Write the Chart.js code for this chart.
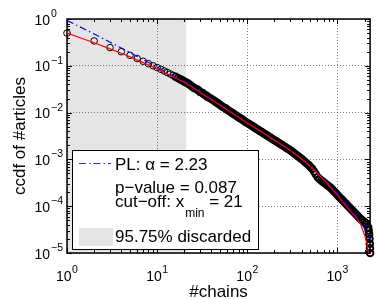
<!DOCTYPE html>
<html><head><meta charset="utf-8">
<script src="https://cdn.jsdelivr.net/npm/chart.js@4/dist/chart.umd.min.js"></script>
<style>html,body{margin:0;padding:0;background:#fff;}#wrap{width:376px;height:299px;}</style>
</head><body><div id="wrap"><canvas id="c" width="376" height="299"></canvas></div>
<script>
// ---- chart data ----
const xLabel = '#chains';
const yLabel = 'ccdf of #articles';
const xTickExps = [0, 1, 2, 3];
const yTickExps = [0, -1, -2, -3, -4, -5];
const xRange = [1, 2300];
const yRange = [1e-5, 1];
const xMinCut = 21;

const dataX = [1,2,3,4,5,6,7,8,9,10,11,12,13,14,15,16,17,18,19,20,21,22,23,24,25,26,28,29,30,32,33,35,36,38,40,42,44,46,48,50,52,55,58,60,63,66,69,72,76,79,83,87,91,95,100,105,110,115,120,126,132,138,145,151,158,166,174,182,190,200,209,219,229,240,251,263,275,288,302,316,331,347,363,380,398,417,437,457,479,501,525,550,575,603,631,661,692,724,759,794,832,871,912,955,1000,1047,1096,1148,1202,1259,1318,1380,1445,1514,1585,1660,1738,1820,1905,1995,2089,2188,2220,2245,2265,2280,2292,2300];
const dataY = [0.5,0.34,0.245,0.2,0.167,0.143,0.125,0.111,0.1,0.0915,0.084,0.0775,0.0718,0.0668,0.0625,0.0586,0.0551,0.0519,0.049,0.0464,0.044,0.0417,0.0394,0.0371,0.035,0.033,0.0311,0.0293,0.0277,0.0261,0.0246,0.0232,0.0219,0.0207,0.0195,0.0184,0.0173,0.0163,0.0154,0.0145,0.0137,0.0129,0.0122,0.0115,0.0108,0.0102,0.00964,0.0091,0.00857,0.00809,0.00762,0.00719,0.00678,0.0064,0.00603,0.00569,0.00538,0.00508,0.00481,0.00454,0.0043,0.00406,0.00384,0.00362,0.00343,0.00324,0.00306,0.00289,0.00274,0.00258,0.00244,0.00231,0.00218,0.00206,0.00195,0.00184,0.00174,0.00164,0.00155,0.00145,0.00135,0.00126,0.00118,0.0011,0.00103,0.000955,0.000883,0.000817,0.000759,0.000692,0.000631,0.00055,0.000479,0.000417,0.00038,0.000355,0.000331,0.000309,0.000288,0.000269,0.000251,0.000229,0.000209,0.000191,0.000174,0.000158,0.000145,0.000132,0.00012,0.00011,0.0001,0.0000912,0.0000832,0.0000759,0.0000692,0.0000631,0.0000575,0.0000525,0.000049,0.0000457,0.0000417,0.0000355,0.0000302,0.0000251,0.00002,0.0000158,0.0000126,0.00001];

const plX = [1,2,3,4,6,8,10,14,21,30,50,100,200,400,600,800,1000,1200,1400,1600,1800,2000,2150,2300];
const plY = [0.93,0.48,0.32,0.24,0.158,0.118,0.094,0.066,0.0445,0.0282,0.0148,0.0061,0.0026,0.00104,0.00052,0.0003,0.000185,0.000125,0.000088,0.000064,0.000046,0.000033,0.000025,0.0000195];

const cutX = [1,2,3,4,5,7,10,14,21,30,50,100,150,200,300,400,500,600,700,800,900,1000,1200,1400,1600,1800,2000,2100,2150,2200,2230];
const cutY = [0.5,0.31,0.23,0.185,0.155,0.117,0.086,0.062,0.0425,0.027,0.0143,0.0059,0.0037,0.00256,0.00157,0.00102,0.00071,0.0005,0.00037,0.00028,0.000216,0.00017,0.00011,0.0000776,0.0000582,0.0000417,0.000024,0.000018,0.000014,0.00001,0.000007];

const legPL = 'PL: \u03b1 = 2.23';
const legP = 'p\u2212value = 0.087';
const legCut = 'cut\u2212off: x';
const legCutSub = 'min';
const legCutEnd = ' = 21';
const legDisc = '95.75% discarded';

// ---- styling ----
const FONT = '"Liberation Sans", Arial, Helvetica, sans-serif';
const SHADE = '#e5e5e5';
const toPts = (xs, ys) => xs.map((x, i) => ({x: x, y: ys[i]}));
const isDecade = v => Math.abs(Math.log10(v) - Math.round(Math.log10(v))) < 1e-9;
const supStr = e => (e < 0 ? '\u2212' + (-e) : String(e));

const shadePlugin = {
  id: 'shade',
  beforeDraw(chart) {
    const {ctx, chartArea: a, scales} = chart;
    ctx.save();
    ctx.fillStyle = '#fff';
    ctx.fillRect(0, 0, chart.width, chart.height);
    const x0 = scales.x.getPixelForValue(xRange[0]);
    const x1 = scales.x.getPixelForValue(xMinCut);
    ctx.fillStyle = SHADE;
    ctx.fillRect(x0, a.top, x1 - x0, a.bottom - a.top);
    ctx.restore();
  }
};

const axesPlugin = {
  id: 'axesbox',
  beforeDatasetsDraw(chart) {
    const {ctx, chartArea: a, scales} = chart;
    const xs = scales.x, ys = scales.y;
    ctx.save();
    ctx.strokeStyle = '#000';
    ctx.lineWidth = 1;
    ctx.beginPath();
    for (let e = 0; e <= 3; e++) {
      for (let m = 1; m <= 9; m++) {
        const v = m * Math.pow(10, e);
        if (v < xRange[0] || v > xRange[1]) continue;
        const px = Math.round(xs.getPixelForValue(v)) + 0.5;
        const L = m === 1 ? 5 : 3;
        ctx.moveTo(px, a.bottom); ctx.lineTo(px, a.bottom - L);
        ctx.moveTo(px, a.top); ctx.lineTo(px, a.top + L);
      }
    }
    for (let e = -5; e <= 0; e++) {
      for (let m = 1; m <= 9; m++) {
        const v = m * Math.pow(10, e);
        if (v < yRange[0] || v > yRange[1]) continue;
        const py = Math.round(ys.getPixelForValue(v)) + 0.5;
        const L = m === 1 ? 5 : 3;
        ctx.moveTo(a.left, py); ctx.lineTo(a.left + L, py);
        ctx.moveTo(a.right, py); ctx.lineTo(a.right - L, py);
      }
    }
    ctx.stroke();
    ctx.lineWidth = 1.5;
    ctx.strokeRect(a.left, a.top, a.right - a.left, a.bottom - a.top);
    ctx.restore();
  },
  afterDraw(chart) {
    const {ctx, chartArea: a, scales} = chart;
    const xs = scales.x, ys = scales.y;
    ctx.save();
    ctx.fillStyle = '#000';
    ctx.textBaseline = 'alphabetic';
    xTickExps.forEach(e => {
      const px = xs.getPixelForValue(Math.pow(10, e));
      ctx.font = '14px ' + FONT;
      const w1 = ctx.measureText('10').width;
      ctx.font = '10.5px ' + FONT;
      const s = supStr(e);
      const w2 = ctx.measureText(s).width;
      const left = px - (w1 + w2 + 0.5) / 2;
      ctx.font = '14px ' + FONT;
      ctx.textAlign = 'left';
      ctx.fillText('10', left, 281);
      ctx.font = '10.5px ' + FONT;
      ctx.fillText(s, left + w1 + 0.5, 273);
    });
    yTickExps.forEach(e => {
      const py = ys.getPixelForValue(Math.pow(10, e));
      ctx.font = '14px ' + FONT;
      ctx.textAlign = 'right';
      ctx.fillText('10', 50, py + 5.5);
      ctx.font = '10.5px ' + FONT;
      ctx.textAlign = 'left';
      ctx.fillText(supStr(e), 51, py - 2);
    });
    ctx.font = '17px ' + FONT;
    ctx.textAlign = 'center';
    ctx.fillText(xLabel, (a.left + a.right) / 2, 297);
    ctx.save();
    ctx.translate(25, (a.top + a.bottom) / 2);
    ctx.rotate(-Math.PI / 2);
    ctx.fillText(yLabel, 0, 0);
    ctx.restore();
    // legend
    const L = 72.5, T = 150.5, W = 186, H = 99;
    ctx.fillStyle = '#fff';
    ctx.fillRect(L, T, W, H);
    ctx.strokeStyle = '#000';
    ctx.lineWidth = 1;
    ctx.strokeRect(L, T, W, H);
    ctx.strokeStyle = '#2a2aff';
    ctx.lineWidth = 1.2;
    ctx.setLineDash([7, 3, 1.5, 3]);
    ctx.beginPath(); ctx.moveTo(79, 163.5); ctx.lineTo(111, 163.5); ctx.stroke();
    ctx.setLineDash([]);
    ctx.fillStyle = '#000';
    ctx.textAlign = 'left';
    ctx.font = '17px ' + FONT;
    ctx.fillText(legPL, 115, 169.5);
    ctx.fillText(legP, 115, 192.5);
    ctx.fillText(legCut, 115, 207);
    let wx = 115 + ctx.measureText(legCut).width + 1;
    ctx.font = '12px ' + FONT;
    ctx.fillText(legCutSub, wx, 217);
    wx += ctx.measureText(legCutSub).width;
    ctx.font = '17px ' + FONT;
    ctx.fillText(legCutEnd, wx, 207);
    ctx.fillStyle = SHADE;
    ctx.fillRect(79, 228, 34, 18);
    ctx.fillStyle = '#000';
    ctx.fillText(legDisc, 115, 242);
    ctx.restore();
  }
};

const gridColor = c => (c.tick && isDecade(c.tick.value)) ? 'rgba(0,0,0,0.5)' : 'rgba(0,0,0,0)';

new Chart(document.getElementById('c'), {
  type: 'scatter',
  data: {
    datasets: [
      { label: 'cut-off fit', data: toPts(cutX, cutY), showLine: true, borderColor: '#ff0000', borderWidth: 1.2, pointRadius: 0, fill: false, order: 0 },
      { label: 'PL', data: toPts(plX, plY), showLine: true, borderColor: '#0000ff', borderWidth: 1.2, borderDash: [7, 3, 1.5, 3], pointRadius: 0, fill: false, order: 1 },
      { label: 'data', data: toPts(dataX, dataY), showLine: false, pointStyle: 'circle', pointRadius: 3.3,
        borderWidth: c => (c.raw && c.raw.x >= 16 ? 1.9 : 1), borderColor: '#000', backgroundColor: 'rgba(0,0,0,0)', clip: false, order: 2 }
    ]
  },
  options: {
    responsive: false,
    animation: false,
    devicePixelRatio: 1,
    layout: { padding: { left: 67, right: 1, top: 19, bottom: 46 } },
    plugins: { legend: { display: false }, tooltip: { enabled: false } },
    scales: {
      x: {
        type: 'logarithmic', min: xRange[0], max: xRange[1],
        ticks: { display: false },
        grid: { color: gridColor, lineWidth: 1, drawTicks: false },
        border: { display: false, dash: [1, 2] },
        afterFit: s => { s.height = 0; }
      },
      y: {
        type: 'logarithmic', min: yRange[0], max: yRange[1],
        ticks: { display: false },
        grid: { color: gridColor, lineWidth: 1, drawTicks: false },
        border: { display: false, dash: [1, 2] },
        afterFit: s => { s.width = 0; }
      }
    }
  },
  plugins: [shadePlugin, axesPlugin]
});
</script></body></html>
